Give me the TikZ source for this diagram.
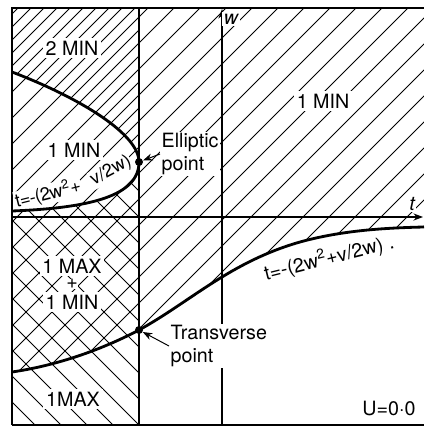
\documentclass[tikz,border=0pt]{standalone}
\usepackage{fontspec}
\setmainfont{TeX Gyre Heros}
\usetikzlibrary{arrows.meta}
\tikzset{
  hatch/.style={line width=0.7pt},
  lbl/.style={fill=white, inner sep=2pt, font=\fontsize{14}{16.5}\selectfont},
  curve/.style={line width=2pt},
}

\begin{document}
\begin{tikzpicture}[x=0.025cm, y=-0.025cm, >={Stealth[length=2.4mm]}]
	\useasboundingbox (0,0) rectangle (424,427);
	% points and axis ends
	\coordinate (ell) at (139,162);
	\coordinate (transpt) at (139,330);
	\coordinate (wbot) at (222,425);
	\coordinate (wtop) at (222,9);
	\coordinate (tleft) at (12,217);
	\coordinate (tright) at (423,217);
	% 2 MIN: dense hatching
	\begin{scope}
		\clip (12,8) -- (139,8) -- (ell) .. controls (139,134) and (80,98) .. (12,72) -- cycle;
		\foreach \c in {13,26,...,364} \draw[hatch] ({\c+20},-20) -- ({\c-450},450);
	\end{scope}
	% 1 MIN, inside the curve
	\begin{scope}
		\clip (12,72) .. controls (80,98) and (139,134) .. (ell) .. controls (139,196) and (90,208) .. (12,211) -- cycle;
		\foreach \c in {26,52,...,364} \draw[hatch] ({\c+20},-20) -- ({\c-450},450);
	\end{scope}
	% 1 MAX + 1 MIN: cross hatching
	\begin{scope}
		\clip (12,211) .. controls (90,208) and (139,196) .. (ell) -- (transpt) .. controls (105,348) and (60,365) .. (12,372) -- cycle;
		\foreach \c in {130,156,...,520} \draw[hatch] ({\c+20},-20) -- ({\c-450},450);
		\foreach \c in {-416,-390,...,-52} \draw[hatch] ({\c-20},-20) -- ({\c+500},500);
	\end{scope}
	% 1 MAX
	\begin{scope}
		\clip (12,372) .. controls (60,365) and (105,348) .. (transpt) -- (139,425) -- (12,425) -- cycle;
		\foreach \c in {-416,-390,...,-52} \draw[hatch] ({\c-20},-20) -- ({\c+500},500);
	\end{scope}
	% 1 MIN, right part
	\begin{scope}
		\clip (139,8) -- (424,8) -- (424,227) .. controls (380,228) and (340,231) .. (300,242) .. controls (230,262) and (190,302) .. (transpt) -- cycle;
		\foreach \c in {130,156,...,858} \draw[hatch] ({\c+20},-20) -- ({\c-450},450);
	\end{scope}
	% frame and axes
	\draw[line width=1.4pt] (12,425) -- (12,8) -- (424,8);
	\draw[line width=1.4pt] (12,425) -- (424,425);
	\draw[line width=1.6pt] (139,8) -- (139,425);
	\draw[->, line width=0.9pt] (wbot) -- (wtop);
	\draw[->, line width=0.9pt] (tleft) -- (tright);
	% labels
	\node[lbl] (twomin) at (72,48) {2 MIN};
	\node[lbl] (oneminr) at (323,101) {1 MIN};
	\node[lbl] (oneminl) at (74,150) {1 MIN};
	\node[lbl, rotate=14, inner sep=0.5pt, font=\fontsize{13}{15}\selectfont\addfontfeature{LetterSpace=-3}] (forma) at (48,194) {t=-(2w\textsuperscript{2}+};
	\node[lbl, rotate=28, inner sep=0.5pt, font=\fontsize{13}{15}\selectfont] (formb) at (111,171) {v/2w)};
	\node[lbl] (maxa) at (72,266) {1 MAX};
	\node[lbl, inner sep=0.5pt] (plus) at (72,284) {+};
	\node[lbl] (mina) at (72,302) {1 MIN};
	\node[lbl] (maxb) at (73,399) {1MAX};
	\node[lbl, rotate=14, inner sep=1pt] (formr) at (329,258) {t=-(2w\textsuperscript{2}+v/2w)~.};
	\node[lbl, anchor=west, align=left, inner sep=1pt] (ellip) at (160,154) {Elliptic\\point};
	\node[lbl, anchor=west, align=left, inner sep=1pt] (translbl) at (169,346) {Transverse\\point};
	\node[lbl] (ulbl) at (389,408) {U=0·0};
	\node[lbl, inner sep=1pt] (wlbl) at (231,19) {\itshape w};
	\node[lbl, inner sep=1pt] (tlbl) at (412,204) {\itshape t};
	% curves and points
	\draw[curve] (12,72) .. controls (80,98) and (139,134) .. (ell) .. controls (139,196) and (90,208) .. (12,211);
	\draw[curve] (12,372) .. controls (60,365) and (105,348) .. (transpt) .. controls (190,302) and (230,262) .. (300,242) .. controls (340,231) and (380,228) .. (424,227);
	\fill (ell) circle (4);
	\fill (transpt) circle (4);
	\draw[->, line width=0.7pt, shorten >=3pt] (ellip.west) -- (ell);
	\draw[->, line width=0.7pt, shorten >=3pt] (translbl.west) -- (transpt);
\end{tikzpicture}
\end{document}
